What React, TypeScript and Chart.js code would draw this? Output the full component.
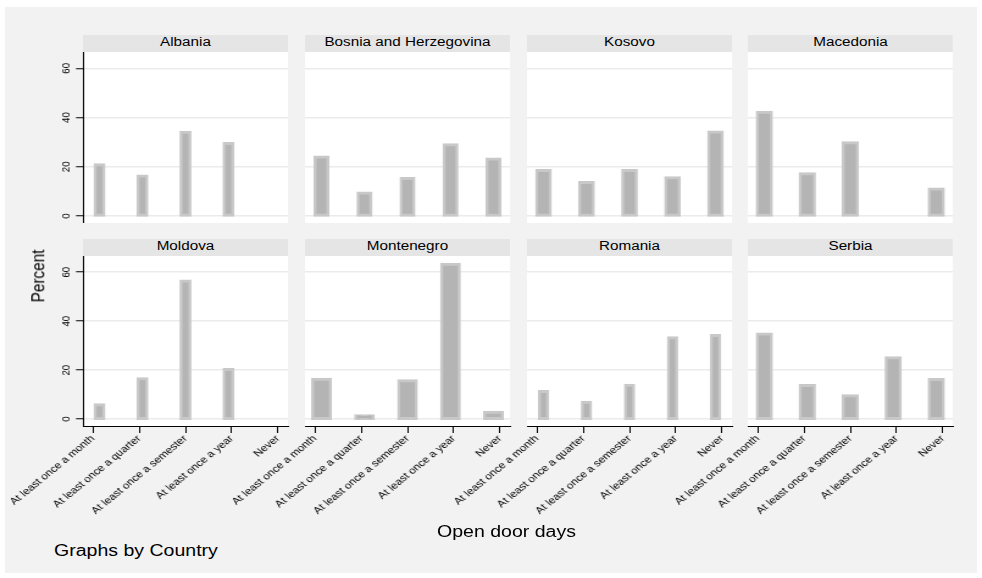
import React, { useEffect, useRef } from "react";
import { Chart, registerables } from "chart.js";

Chart.register(...registerables);

// ---------- data ----------
const countries = [
  "Albania",
  "Bosnia and Herzegovina",
  "Kosovo",
  "Macedonia",
  "Moldova",
  "Montenegro",
  "Romania",
  "Serbia",
];
const categories = [
  "At least once a month",
  "At least once a quarter",
  "At least once a semester",
  "At least once a year",
  "Never",
];
const albania = [20.8, 16.3, 34.0, 29.5, 0];
const bosnia = [24.0, 9.4, 15.3, 29.0, 23.2];
const kosovo = [18.5, 13.6, 18.5, 15.6, 34.1];
const macedonia = [42.1, 17.2, 29.8, 0, 11.0];
const moldova = [5.9, 16.5, 56.4, 20.3, 0];
const montenegro = [16.3, 1.4, 15.7, 63.2, 2.8];
const romania = [11.3, 6.9, 13.8, 33.2, 34.1];
const serbia = [34.8, 13.7, 9.6, 25.1, 16.2];
const yTicks = [0, 20, 40, 60];
const yTitle = "Percent";
const xTitle = "Open door days";
const note = "Graphs by Country";

const SERIES = [albania, bosnia, kosovo, macedonia, moldova, montenegro, romania, serbia];

// ---------- layout / style (unstretched coordinates) ----------
const SX = 982 / 805;
const FONT = "'Liberation Sans', Arial, Helvetica, sans-serif";
const COL_X = [68.04, 250.0, 432.0, 613.2];
const PW = 168.05;
const ROWS = [
  { header: 35, plotTop: 52, plotH: 171.3 },
  { header: 238.7, plotTop: 255.7, plotH: 170 },
];
const HEADER_H = 17;
const ML = 100;
const CW = 276;
const YW = 28;
const XH = 110;
const BAR_W = [6.8, 10.1, 10.7, 11.2, 6.8, 14, 6.3, 11.2];

const plotBg = {
  id: "plotBg",
  beforeDraw(chart: any) {
    const { ctx, chartArea: a } = chart;
    ctx.save();
    ctx.fillStyle = "#ffffff";
    ctx.fillRect(a.left, a.top, a.right - a.left, a.bottom - a.top);
    ctx.restore();
  },
};

function buildConfig(idx: number): any {
  const row = idx < 4 ? 0 : 1;
  const col = idx % 4;
  const isLeft = col === 0;
  const isBottom = row === 1;
  const values = SERIES[idx];
  const points = values
    .map((v, i) => ({ x: i + 1, y: v }))
    .filter((p) => p.y > 0);
  return {
    type: "bar",
    data: {
      datasets: [
        {
          data: points,
          xAxisID: "xb",
          yAxisID: "y",
          barThickness: BAR_W[idx],
          backgroundColor: "#b4b4b4",
          borderColor: "#c8c8c8",
          borderWidth: { top: 3, bottom: 3, left: 2.5, right: 2.5 },
          borderSkipped: false,
          inflateAmount: 1.5,
        },
      ],
    },
    options: {
      animation: false,
      responsive: false,
      events: [],
      layout: {
        padding: {
          left: ML - (isLeft ? YW : 0),
          right: CW - ML - PW,
          top: 0,
          bottom: 0,
        },
      },
      plugins: {
        legend: { display: false },
        tooltip: { enabled: false },
        title: { display: false },
      },
      scales: {
        xb: {
          type: "linear",
          axis: "x",
          position: "bottom",
          display: false,
          offset: false,
          grid: { offset: false },
          min: 0.616,
          max: 5.384,
          afterBuildTicks: (s: any) => {
            s.ticks = categories.map((_, i) => ({ value: i + 1 }));
          },
        },
        x: {
          type: "linear",
          position: "bottom",
          display: isBottom,
          offset: false,
          min: 0.785,
          max: 5.215,
          afterBuildTicks: (s: any) => {
            s.ticks = categories.map((_, i) => ({ value: i + 1 }));
          },
          afterFit: (s: any) => {
            if (isBottom) s.height = XH;
            s.paddingLeft = 0;
            s.paddingRight = 0;
          },
          grid: {
            display: true,
            offset: false,
            drawOnChartArea: false,
            drawTicks: true,
            tickLength: 7,
            tickColor: "#000",
            tickWidth: 1,
          },
          border: { display: true, color: "#000", width: 1 },
          ticks: {
            autoSkip: false,
            minRotation: 45,
            maxRotation: 45,
            padding: 0,
            color: "#000",
            font: { family: FONT, size: 9.7 },
            callback: (v: any) => categories[Math.round(Number(v)) - 1] ?? "",
          },
        },
        y: {
          type: "linear",
          position: "left",
          min: -2.8,
          max: 66.6,
          afterBuildTicks: (s: any) => {
            s.ticks = yTicks.map((v) => ({ value: v }));
          },
          afterFit: (s: any) => {
            s.width = isLeft ? YW : 0;
            s.paddingTop = 0;
            s.paddingBottom = 0;
          },
          grid: {
            color: "#ebebeb",
            lineWidth: 1.5,
            drawTicks: isLeft,
            tickLength: 5.7,
            tickColor: "#000",
            tickWidth: 1,
          },
          border: { display: isLeft, color: "#000", width: 1 },
          ticks: {
            display: isLeft,
            minRotation: 90,
            maxRotation: 90,
            crossAlign: "center",
            padding: 2.5,
            color: "#000",
            font: { family: FONT, size: 9.7 },
          },
        },
      },
    },
    plugins: [plotBg],
  };
}

function Panel({ idx }: { idx: number }) {
  const ref = useRef<HTMLCanvasElement>(null);
  const row = idx < 4 ? 0 : 1;
  const col = idx % 4;
  const r = ROWS[row];
  const ch = Math.round(r.plotH + (row === 1 ? XH : 0));
  useEffect(() => {
    if (!ref.current) return;
    const chart = new Chart(ref.current, buildConfig(idx));
    return () => chart.destroy();
  }, [idx]);
  return (
    <>
      <div
        style={{
          position: "absolute",
          left: COL_X[col],
          top: r.header,
          width: PW,
          height: HEADER_H,
          background: "#e5e5e5",
          color: "#000",
          fontFamily: FONT,
          fontSize: 12.5,
          lineHeight: "15px",
          textAlign: "center",
          whiteSpace: "nowrap",
        }}
      >
        {countries[idx]}
      </div>
      <canvas
        ref={ref}
        width={CW}
        height={ch}
        style={{
          position: "absolute",
          left: COL_X[col] - ML,
          top: r.plotTop,
          width: CW,
          height: ch,
        }}
      />
    </>
  );
}

export default function App() {
  useEffect(() => {
    document.body.style.overflow = "hidden";
  }, []);
  return (
    <div
      style={{
        position: "absolute",
        left: 0,
        top: 0,
        width: 805,
        height: 578,
        background: "#ffffff",
        transform: `scaleX(${SX})`,
        transformOrigin: "0 0",
        overflow: "visible",
      }}
    >
      <div
        style={{
          position: "absolute",
          left: 4.1,
          top: 7,
          width: 797,
          height: 566,
          background: "#f2f2f2",
        }}
      />
      {countries.map((_, i) => (
        <Panel key={i} idx={i} />
      ))}
      <div
        style={{
          position: "absolute",
          left: 31.4,
          top: 276,
          transform: "translate(-50%, -50%) rotate(-90deg)",
          fontFamily: FONT,
          fontSize: 15.3,
          lineHeight: 1,
          color: "#000",
          whiteSpace: "nowrap",
        }}
      >
        {yTitle}
      </div>
      <div
        style={{
          position: "absolute",
          left: 415.2,
          top: 523.5,
          transform: "translateX(-50%)",
          fontFamily: FONT,
          fontSize: 16,
          lineHeight: 1,
          color: "#000",
          whiteSpace: "nowrap",
        }}
      >
        {xTitle}
      </div>
      <div
        style={{
          position: "absolute",
          left: 44.3,
          top: 542.5,
          fontFamily: FONT,
          fontSize: 16,
          lineHeight: 1,
          color: "#000",
          whiteSpace: "nowrap",
        }}
      >
        {note}
      </div>
    </div>
  );
}
